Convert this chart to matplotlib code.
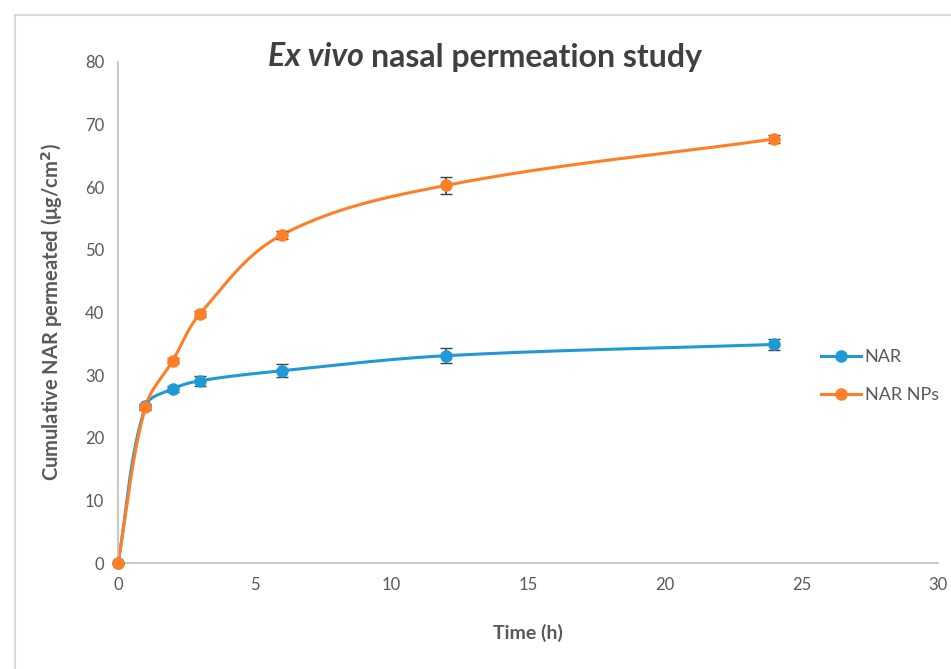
import numpy as np
import matplotlib.pyplot as plt
from matplotlib.patches import Rectangle

# Data
time_h = [0, 1, 2, 3, 6, 12, 24]
nar = [0, 25.0, 27.8, 29.1, 30.7, 33.1, 34.9]
nar_err = [0, 0.4, 0.5, 0.8, 1.0, 1.2, 0.9]
nar_nps = [0, 24.9, 32.3, 39.8, 52.4, 60.3, 67.7]
nar_nps_err = [0, 0.4, 0.4, 0.5, 0.6, 1.4, 0.7]

blue = "#1f9ad6"
orange = "#ff7f27"
grey = "#595959"

plt.rcParams['font.family'] = ['Lato', 'DejaVu Sans']

W, H = 951, 669
ax_l, ax_r, ax_b, ax_t = 118, 938, 563, 62
sx_px = (ax_r - ax_l) / 30
sy_px = (ax_b - ax_t) / 80


def smooth(x, y, n=40, k=0.35):
    # smoothed line like a spreadsheet's, built in pixel-like space
    p = np.column_stack([np.asarray(x, float) * sx_px, np.asarray(y, float) * sy_px])
    tang = []
    for i in range(len(p)):
        a = p[max(i - 1, 0)]
        b = p[min(i + 1, len(p) - 1)]
        d = b - a
        tang.append(d / np.hypot(*d))
    out = []
    s = np.linspace(0, 1, n)[:, None]
    for i in range(len(p) - 1):
        d = np.hypot(*(p[i + 1] - p[i]))
        c1 = p[i] + tang[i] * d * k
        c2 = p[i + 1] - tang[i + 1] * d * k
        seg = (1 - s) ** 3 * p[i] + 3 * (1 - s) ** 2 * s * c1 + 3 * (1 - s) * s ** 2 * c2 + s ** 3 * p[i + 1]
        out.append(seg)
    out = np.vstack(out)
    return out[:, 0] / sx_px, out[:, 1] / sy_px


fig = plt.figure(figsize=(W / 100, H / 100), dpi=100)
fig.patches.append(Rectangle((15 / W, -0.05), 1.1, 1 - 15 / H + 0.05, transform=fig.transFigure,
                             fill=False, edgecolor="#d9d9d9", linewidth=1.5))

ax = fig.add_axes([ax_l / W, 1 - ax_b / H, (ax_r - ax_l) / W, (ax_b - ax_t) / H])

for ys, errs, col, lab in [(nar, nar_err, blue, "NAR"), (nar_nps, nar_nps_err, orange, "NAR NPs")]:
    cx, cy = smooth(time_h, ys)
    ax.plot(cx, cy, color=col, linewidth=2.2, zorder=2, clip_on=False)
    ax.errorbar(time_h, ys, yerr=errs, fmt="none", ecolor="#404040", elinewidth=1.2, capsize=4, zorder=3)
    ax.plot(time_h, ys, "o", color=col, markersize=8, zorder=4, clip_on=False)
    ax.plot([], [], "-o", color=col, linewidth=2.2, markersize=8, label=lab)

ax.set_xlim(0, 30)
ax.set_ylim(0, 80)
ax.set_xticks(range(0, 31, 5))
ax.set_yticks(range(0, 81, 10))
ax.tick_params(length=0, labelsize=12, labelcolor=grey, pad=10)
for s in ["top", "right"]:
    ax.spines[s].set_visible(False)
for s in ["left", "bottom"]:
    ax.spines[s].set_color("#bfbfbf")
    ax.spines[s].set_linewidth(1.2)
ax.patch.set_alpha(0)

ax.set_xlabel("Time (h)", fontsize=14, fontweight="bold", color=grey, labelpad=22)
ax.set_ylabel("Cumulative NAR permeated (\u03bcg/cm$^\\mathbf{2}$)", fontsize=14.5, fontweight="bold",
              color=grey, labelpad=14)

# title: italic part followed by upright part
t1 = fig.text(268 / W, 1 - 57 / H, "Ex vivo", fontsize=23, fontweight="bold", style="italic",
              color="#404040", ha="left", va="center")
fig.canvas.draw()
bb = t1.get_window_extent()
fig.text((bb.x1 + 7) / W, 1 - 57 / H, "nasal permeation study", fontsize=23, fontweight="bold",
         color="#404040", ha="left", va="center")

leg = fig.legend(loc="center left", bbox_to_anchor=(805 / W, 1 - 376 / H), frameon=False,
                 fontsize=13, labelspacing=1.2, handlelength=2.2, handletextpad=0.2)
for t in leg.get_texts():
    t.set_color(grey)

fig.savefig("out.png", dpi=100)
